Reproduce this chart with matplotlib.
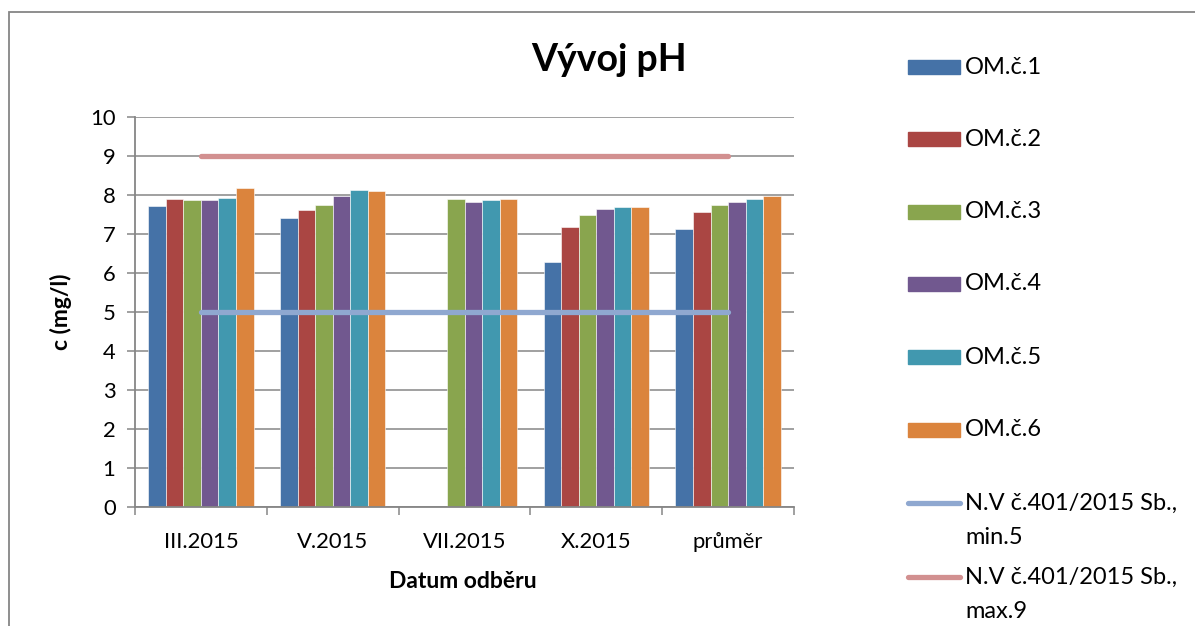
import numpy as np
import matplotlib
matplotlib.use("Agg")
import matplotlib.pyplot as plt
from matplotlib.patches import Rectangle
from matplotlib.lines import Line2D

plt.rcParams['font.family'] = ['Lato', 'DejaVu Sans']

# ============================================================
# Data
# ============================================================

categories = ["III.2015", "V.2015", "VII.2015", "X.2015", "průměr"]

om1 = [7.71, 7.40, np.nan, 6.28, 7.13]
om2 = [7.91, 7.61, np.nan, 7.18, 7.56]
om3 = [7.87, 7.74, 7.91, 7.49, 7.75]
om4 = [7.88, 7.97, 7.82, 7.63, 7.83]
om5 = [7.92, 8.14, 7.88, 7.68, 7.90]
om6 = [8.19, 8.09, 7.90, 7.69, 7.97]

limit_min = [5, 5, 5, 5, 5]
limit_max = [9, 9, 9, 9, 9]

series_names = ["OM.č.1", "OM.č.2", "OM.č.3", "OM.č.4", "OM.č.5", "OM.č.6"]
line_names = ["N.V č.401/2015 Sb.,\nmin.5", "N.V č.401/2015 Sb.,\nmax.9"]

bar_colors = ["#4572A7", "#AA4643", "#89A54E", "#71588F", "#4198AF", "#DB843D"]
line_colors = ["#8FA8D0", "#D29090"]
grey = "#868686"

# ============================================================
# Figure
# ============================================================

W, H = 1195, 626
fig = plt.figure(figsize=(W / 100, H / 100), dpi=100)


def fx(x):
    return x / W


def fy(y):
    return 1 - y / H


# chart border (only top and left visible)
fig.add_artist(Rectangle((fx(9), -0.1), 1.2, fy(12) + 0.1, transform=fig.transFigure,
                         fill=False, edgecolor=grey, linewidth=1.3))

ax = fig.add_axes([fx(135), fy(507), (794 - 135) / W, (507 - 117) / H])

x = np.arange(len(categories))
bw = 0.8 / 6
all_series = [om1, om2, om3, om4, om5, om6]
for j, vals in enumerate(all_series):
    ax.bar(x + (j - 2.5) * bw, vals, width=bw, color=bar_colors[j],
           edgecolor="white", linewidth=0.4, zorder=2)

for vals, col in zip([limit_min, limit_max], line_colors):
    ax.plot(x, vals, color=col, linewidth=3.8, solid_capstyle="round", zorder=3)

ax.set_xlim(-0.5, 4.5)
ax.set_ylim(0, 10)
ax.set_yticks(range(0, 11))
ax.grid(axis="y", color=grey, linewidth=1.1, zorder=0)
ax.set_axisbelow(True)

# ticks at category boundaries, labels at centres
ax.set_xticks(np.arange(-0.5, 5, 1))
ax.set_xticklabels([])
ax.set_xticks(x, minor=True)
ax.set_xticklabels(categories, minor=True)
ax.tick_params(axis="x", which="major", direction="out", length=6, width=1.1, color=grey)
ax.tick_params(axis="x", which="minor", length=0, pad=18, labelsize=15.8)
ax.tick_params(axis="y", direction="out", length=6, width=1.1, color=grey,
               pad=8, labelsize=15.8)

for side in ["top", "right"]:
    ax.spines[side].set_visible(False)
for side in ["left", "bottom"]:
    ax.spines[side].set_color(grey)
    ax.spines[side].set_linewidth(1.3)

fig.text(fx(609), fy(60), "Vývoj pH", fontsize=27, fontweight="bold",
         ha="center", va="center")
fig.text(fx(61), fy(312), "c (mg/l)", fontsize=16.5, fontweight="bold",
         rotation=90, ha="center", va="center")
fig.text(fx(463), fy(582), "Datum odběru", fontsize=16.5, fontweight="bold",
         ha="center", va="center")

# ============================================================
# Legend (right side)
# ============================================================

legend_y = [67, 139, 212, 284, 357, 430, 503, 577]
for i, name in enumerate(series_names):
    yc = legend_y[i]
    fig.add_artist(Rectangle((fx(908), fy(yc + 7)), 52 / W, 14 / H,
                             transform=fig.transFigure, color=bar_colors[i]))
    fig.text(fx(965), fy(yc), name, fontsize=17, ha="left", va="center")

for k, name in enumerate(line_names):
    yc = legend_y[6 + k]
    fig.add_artist(Line2D([fx(908), fx(960)], [fy(yc), fy(yc)],
                          transform=fig.transFigure, color=line_colors[k],
                          linewidth=3.8, solid_capstyle="round"))
    for n, part in enumerate(name.split("\n")):
        fig.text(fx(965), fy(yc + 34 * n), part, fontsize=17, ha="left", va="center")

fig.savefig("out.png", dpi=100)
